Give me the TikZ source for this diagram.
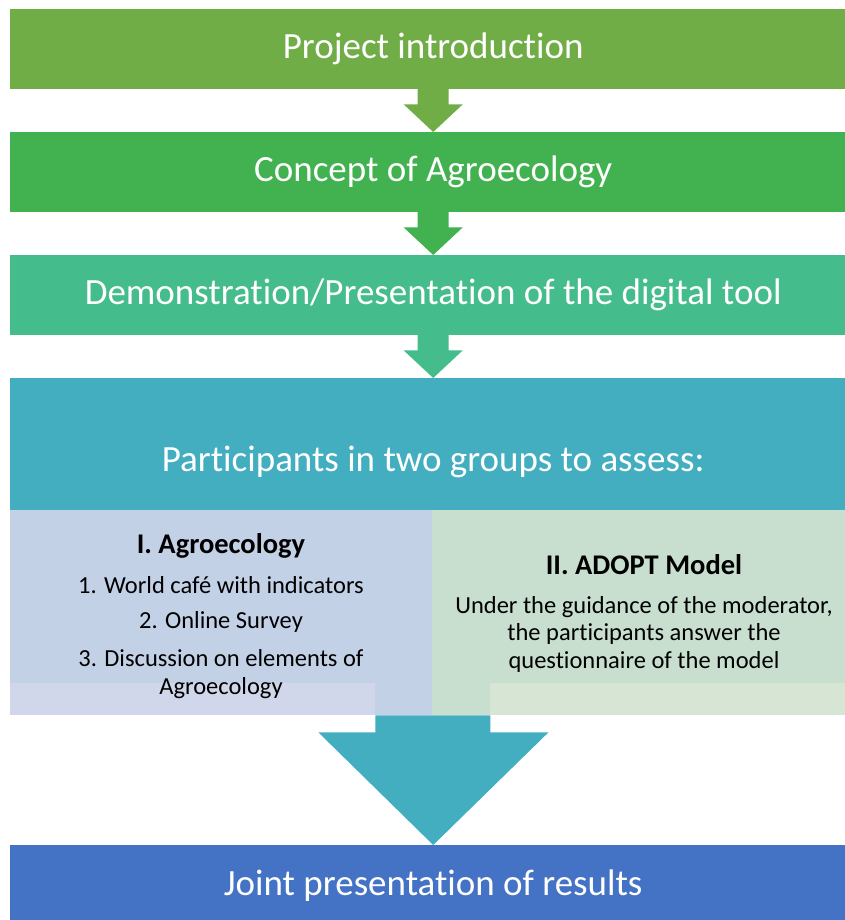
\documentclass[tikz,border=0pt]{standalone}
\usepackage{fontspec}
\setmainfont{Carlito}[Ligatures=NoCommon]
\usetikzlibrary{calc}

\definecolor{introgreen}{HTML}{70AD47}
\definecolor{conceptgreen}{HTML}{42B14F}
\definecolor{demogreen}{HTML}{45BC8B}
\definecolor{groupsteal}{HTML}{43AEC0}
\definecolor{resultsblue}{HTML}{4472C4}
\definecolor{agrofill}{HTML}{C3D1E7}
\definecolor{adoptfill}{HTML}{C8DFD0}
\definecolor{agrolight}{HTML}{D1D7EA}
\definecolor{adoptlight}{HTML}{D6E5D4}

\tikzset{
  stepbar/.style={fill=#1, anchor=north west, inner sep=0pt,
    minimum width=846pt, minimum height=80pt, text=white,
    font=\fontsize{37}{43}\selectfont},
  groupbox/.style={fill=#1, anchor=north west, inner sep=0pt,
    minimum height=205pt},
  grouptitle/.style={font=\fontsize{28.5}{32}\selectfont\bfseries},
  groupitem/.style={font=\fontsize{24.5}{27.5}\selectfont, align=center}
}

\begin{document}
\begin{tikzpicture}[x=1pt, y=-1pt]
    \useasboundingbox (0,0) rectangle (845,920);
    \clip (0,0) rectangle (845,920);

    % steps
    \node[stepbar=introgreen] (intro) at (10,9) {Project introduction};
    \node[stepbar=conceptgreen] (concept) at (10,132) {Concept of Agroecology};
    \node[stepbar=demogreen] (demo) at (10,255) {Demonstration/Presentation of the digital tool};
    \node[stepbar=groupsteal, minimum height=132pt] (groups) at (10,378) {};
    \node[text=white, font=\fontsize{37}{43}\selectfont] (groupstext) at ($(groups.center)+(0,18)$) {Participants in two groups to assess:};

    % small arrows
    \foreach \a/\b/\c in {intro/concept/introgreen, concept/demo/conceptgreen, demo/groups/demogreen}
        \fill[\c] ($(\a.south)+(-15.5,-1)$) -- ($(\a.south)+(-15.5,15)$) -- ($(\a.south)+(-29.5,15)$)
            -- (\b.north) -- ($(\a.south)+(29.5,15)$) -- ($(\a.south)+(15.5,15)$) -- ($(\a.south)+(15.5,-1)$) -- cycle;

    % two groups
    \node[groupbox=agrofill, minimum width=422pt] (agro) at (10,510) {};
    \node[groupbox=adoptfill, minimum width=424pt] (adopt) at (432,510) {};
    \fill[agrolight] (10,683) rectangle (375,715);
    \fill[adoptlight] (490,683) rectangle (856,715);

    \node[grouptitle] (agrotitle) at (221,546) {I. Agroecology};
    \node[groupitem] (agroone) at (221,585) {1. World café with indicators};
    \node[groupitem] (agrotwo) at (221,622) {2. Online Survey};
    \node[groupitem] (agrothree) at (221,674) {3. Discussion on elements of\\Agroecology};

    \node[grouptitle] (adopttitle) at (644,565) {II. ADOPT Model};
    \node[groupitem] (adopttext) at (644,634) {Under the guidance of the moderator,\\the participants answer the\\questionnaire of the model};

    % results
    \node[stepbar=resultsblue] (results) at (10,845) {Joint presentation of results};
    \fill[groupsteal] ($(agro.south east)+(-57,0)$) -- ($(agro.south east)+(-57,17)$) -- ($(agro.south east)+(-114,17)$)
        -- (results.north) -- ($(agro.south east)+(116,17)$) -- ($(agro.south east)+(58,17)$) -- ($(agro.south east)+(58,0)$) -- cycle;
\end{tikzpicture}
\end{document}
